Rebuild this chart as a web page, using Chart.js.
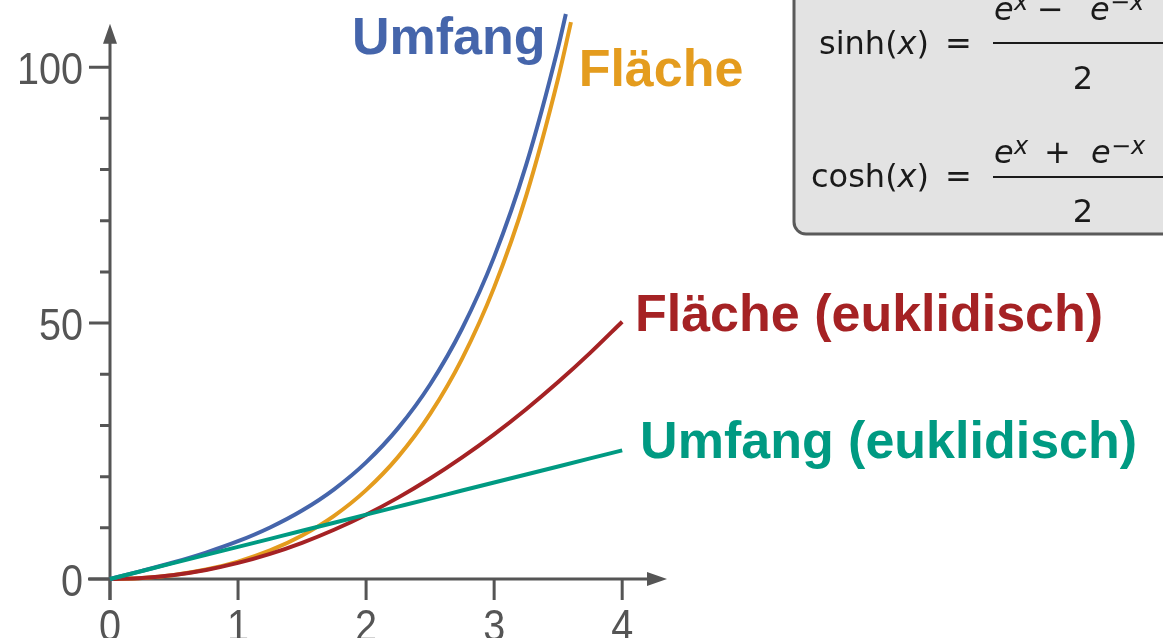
<!DOCTYPE html>
<html>
<head>
<meta charset="utf-8">
<script src="https://cdn.jsdelivr.net/npm/chart.js@4.4.1/dist/chart.umd.min.js"></script>
<style>
  body { margin: 0; background: #fff; }
  #wrap { width: 1163px; height: 638px; }
</style>
</head>
<body>
<div id="wrap"><canvas id="myChart" width="1163" height="638"></canvas></div>
<script>
'use strict';

// hyperbolic circumference 2*pi*sinh(r)
var umfangX = [0, 0.25, 0.5, 0.75, 1, 1.25, 1.5, 1.75, 2, 2.25, 2.5, 2.75, 3, 3.25, 3.5, 3.56];
var umfangY = [0, 1.59, 3.27, 5.17, 7.38, 10.07, 13.38, 17.53, 22.79, 29.48, 38.01, 48.94, 62.94, 80.9, 103.9, 110.4];

// hyperbolic area 2*pi*(cosh(r)-1)
var flaecheX = [0, 0.25, 0.5, 0.75, 1, 1.25, 1.5, 1.75, 2, 2.25, 2.5, 2.75, 3, 3.25, 3.5, 3.6];
var flaecheY = [0, 0.2, 0.8, 1.85, 3.41, 5.58, 8.5, 12.34, 17.36, 23.86, 32.25, 43.06, 56.98, 74.87, 97.85, 108.8];

// euclidean
var euklidX = [0, 0.25, 0.5, 0.75, 1, 1.25, 1.5, 1.75, 2, 2.25, 2.5, 2.75, 3, 3.25, 3.5, 3.75, 4];
var flaecheEuklidY = [0, 0.2, 0.79, 1.77, 3.14, 4.91, 7.07, 9.62, 12.57, 15.9, 19.63, 23.76, 28.27, 33.18, 38.48, 44.18, 50.27];
var umfangEuklidY = [0, 1.57, 3.14, 4.71, 6.28, 7.85, 9.42, 11, 12.57, 14.14, 15.71, 17.28, 18.85, 20.42, 21.99, 23.56, 25.13];

var xTicks = [0, 1, 2, 3, 4];
var yMajorTicks = [0, 50, 100];
var yMinorTicks = [10, 20, 30, 40, 60, 70, 80, 90];

var names = ['Umfang', 'Fläche', 'Fläche (euklidisch)', 'Umfang (euklidisch)'];
var colors = ['#4565ab', '#e49c1e', '#a52224', '#009a82'];

function pts(xs, ys) {
    var out = [];
    for (var i = 0; i < xs.length; i++) out.push({x: xs[i], y: ys[i]});
    return out;
}

// narrow-ish tick label text
function tickText(ctx, t, x, y, align) {
    ctx.save();
    ctx.translate(x, y);
    ctx.scale(0.88, 1);
    ctx.textAlign = align;
    ctx.fillText(t, 0, 0);
    ctx.restore();
}

//--------- axes with arrows, drawn through the chart scales
var axisPlugin = {
    id: 'axisPlugin',
    beforeDatasetsDraw: function (chart) {
        var ctx = chart.ctx;
        var xs = chart.scales.x, ys = chart.scales.y;
        var x0 = xs.getPixelForValue(0), y0 = ys.getPixelForValue(0);
        var xEnd = xs.getPixelForValue(4.35), yEnd = ys.getPixelForValue(108.5);
        ctx.save();
        ctx.strokeStyle = '#555';
        ctx.fillStyle = '#555';
        ctx.lineWidth = 3;
        ctx.beginPath();
        ctx.moveTo(x0 - 22, y0); ctx.lineTo(xEnd - 18, y0);
        ctx.moveTo(x0, y0 + 21); ctx.lineTo(x0, yEnd + 18);
        ctx.stroke();
        // arrows
        ctx.beginPath();
        ctx.moveTo(xEnd, y0); ctx.lineTo(xEnd - 20, y0 - 7); ctx.lineTo(xEnd - 20, y0 + 7); ctx.closePath();
        ctx.moveTo(x0, yEnd); ctx.lineTo(x0 - 7, yEnd + 20); ctx.lineTo(x0 + 7, yEnd + 20); ctx.closePath();
        ctx.fill();
        // ticks
        ctx.beginPath();
        xTicks.forEach(function (v) {
            var p = xs.getPixelForValue(v);
            ctx.moveTo(p, y0); ctx.lineTo(p, y0 + 21);
        });
        yMajorTicks.forEach(function (v) {
            var p = ys.getPixelForValue(v);
            ctx.moveTo(x0 - 21, p); ctx.lineTo(x0, p);
        });
        yMinorTicks.forEach(function (v) {
            var p = ys.getPixelForValue(v);
            ctx.moveTo(x0 - 10, p); ctx.lineTo(x0, p);
        });
        ctx.stroke();
        // tick labels
        ctx.font = '45px "Liberation Sans"';
        ctx.textBaseline = 'alphabetic';
        xTicks.forEach(function (v) {
            tickText(ctx, String(v), xs.getPixelForValue(v), y0 + 62, 'center');
        });
        yMajorTicks.forEach(function (v) {
            tickText(ctx, String(v), x0 - 27, ys.getPixelForValue(v) + 17, 'right');
        });
        ctx.restore();
    },
    afterDatasetsDraw: function (chart) {
        var ctx = chart.ctx;
        var xs = chart.scales.x, ys = chart.scales.y;
        ctx.save();
        // series labels
        ctx.font = 'bold 52px "Liberation Sans"';
        ctx.textAlign = 'left';
        var labelPos = [[1.89, 102.6], [3.66, 96.3], [4.1, 48.5], [4.14, 23.7]];
        for (var i = 0; i < names.length; i++) {
            ctx.fillStyle = colors[i];
            ctx.fillText(names[i], xs.getPixelForValue(labelPos[i][0]), ys.getPixelForValue(labelPos[i][1]));
        }
        // formula box
        ctx.fillStyle = '#e3e3e3';
        ctx.strokeStyle = '#5a5a5a';
        ctx.lineWidth = 3;
        ctx.beginPath();
        ctx.roundRect(794, -30, 420, 264, 12);
        ctx.fill();
        ctx.stroke();

        ctx.fillStyle = '#1a1a1a';
        var reg = '32px "DejaVu Sans"', it = 'italic 32px "DejaVu Sans"', sup = 'italic 24px "DejaVu Sans"', supR = '24px "DejaVu Sans"';
        function run(parts, x, y) {
            parts.forEach(function (p) {
                ctx.font = p[1];
                ctx.fillText(p[0], x, y);
                x += ctx.measureText(p[0]).width;
            });
        }
        function put(t, f, x, y) { ctx.font = f; ctx.fillText(t, x, y); }

        run([['sinh(', reg], ['x', it], [')', reg]], 819, 54);
        put('=', reg, 945, 54);
        run([['cosh(', reg], ['x', it], [')', reg]], 811, 187);
        put('=', reg, 945, 187);

        ctx.fillRect(993, 42, 200, 2);
        ctx.fillRect(993, 176, 200, 2);

        put('e', it, 994, 20); put('x', sup, 1014, 10);
        put('−', reg, 1037, 20);
        put('e', it, 1090, 20); run([['−', supR], ['x', sup]], 1110, 10);

        put('e', it, 994, 163); put('x', sup, 1014, 154);
        put('+', reg, 1044, 163);
        put('e', it, 1091, 163); run([['−', supR], ['x', sup]], 1111, 154);

        ctx.textAlign = 'center';
        put('2', reg, 1083, 89);
        put('2', reg, 1083, 222);
        ctx.restore();
    }
};

var ctx = document.getElementById('myChart').getContext('2d');
var datasets = [
    pts(umfangX, umfangY),
    pts(flaecheX, flaecheY),
    pts(euklidX, flaecheEuklidY),
    pts(euklidX, umfangEuklidY)
].map(function (d, i) {
    return {
        label: names[i],
        data: d,
        borderColor: colors[i],
        backgroundColor: colors[i],
        borderWidth: 4,
        pointRadius: 0,
        cubicInterpolationMode: 'monotone',
        clip: false
    };
});
// draw order: teal over blue, red over orange near origin
datasets[0].order = 1; datasets[1].order = 3; datasets[2].order = 2; datasets[3].order = 0;

var chart = new Chart(ctx, {
    type: 'line',
    data: { datasets: datasets },
    options: {
        responsive: false,
        devicePixelRatio: 1,
        animation: false,
        layout: { padding: { left: 110, right: 496, top: 16, bottom: 59 } },
        plugins: { legend: { display: false }, tooltip: { enabled: false } },
        scales: {
            x: { type: 'linear', min: 0, max: 4.35, display: false },
            y: { type: 'linear', min: 0, max: 110, display: false }
        }
    },
    plugins: [axisPlugin]
});
</script>
</body>
</html>
